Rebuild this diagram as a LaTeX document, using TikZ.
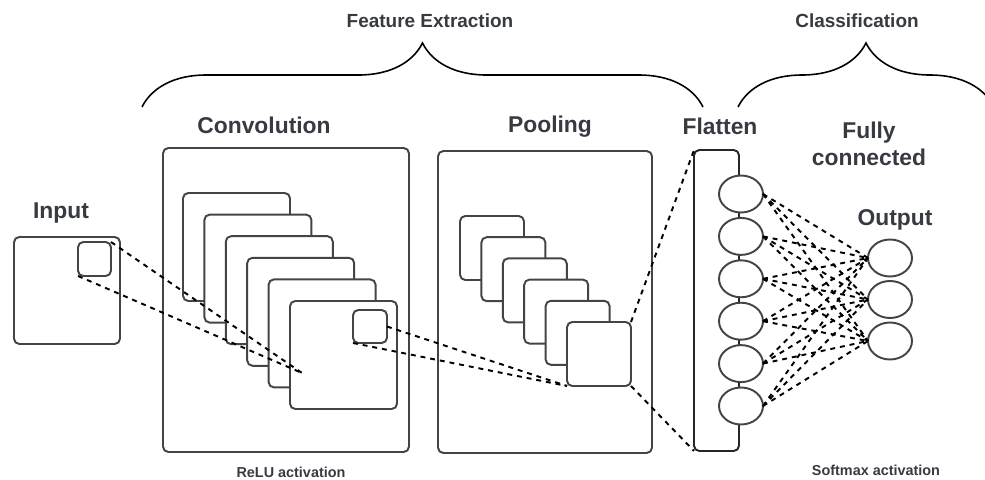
\documentclass[tikz,border=0pt]{standalone}
\usepackage{fontspec}
\setmainfont{Liberation Sans}
\usepackage{tikz}
\usetikzlibrary{shapes.geometric,decorations.pathreplacing}
\definecolor{boxgray}{RGB}{68,68,72}
\definecolor{textgray}{RGB}{55,58,65}
\tikzset{
  layerbox/.style={draw=boxgray,line width=1.1pt,rounded corners=3pt,fill=white,inner sep=0pt,outer sep=0pt},
  neuron/.style={ellipse,draw=boxgray,line width=1.1pt,fill=white,inner sep=0pt,outer sep=0pt,
    minimum width=0.88cm,minimum height=0.74cm},
  link/.style={black,line width=1.1pt,dash pattern=on 2.8pt off 2.8pt},
  bracket/.style={black,line width=0.9pt,decorate,decoration={brace,amplitude=1.28cm}},
  title/.style={font=\fontsize{13}{15.3}\selectfont\bfseries,text=textgray,align=center},
  grouplabel/.style={font=\fontsize{10.8}{13}\selectfont\bfseries,text=textgray},
  sublabel/.style={font=\fontsize{8.2}{10}\selectfont\bfseries,text=textgray}
}
\begin{document}
\begin{tikzpicture}[x=0.02cm,y=-0.02cm]
    \useasboundingbox (0,0) rectangle (985,480);
    % input
    \node[layerbox,minimum width=2.12cm,minimum height=2.14cm] (inp) at (67,290.5) {};
    \node[layerbox,minimum width=0.66cm,minimum height=0.68cm] (inpsq) at (94.5,259) {};
    \node[title] (inplab) at (61,213) {Input};
    % convolution
    \node[layerbox,minimum width=4.92cm,minimum height=6.08cm] (conv) at (286,300) {};
    \foreach \i in {1,...,6}
        \node[layerbox,minimum width=2.14cm,minimum height=2.16cm] (c\i) at ({236.5+21.4*(\i-1)},{247+21.6*(\i-1)}) {};
    \node[layerbox,minimum width=0.68cm,minimum height=0.66cm] (convsq) at (370,326.5) {};
    \coordinate (convpt) at (302,373);
    \draw[link] (inpsq.north east) -- (convpt);
    \draw[link] (inpsq.south west) -- (convpt);
    \node[title] (convlab) at (264,125) {Convolution};
    \node[sublabel] (relu) at (291,472) {ReLU activation};
    % pooling
    \node[layerbox,minimum width=4.28cm,minimum height=6.04cm] (pool) at (545,302) {};
    \foreach \i in {1,...,6}
        \node[layerbox,minimum width=1.28cm,minimum height=1.28cm] (p\i) at ({492+21.4*(\i-1)},{248+21.2*(\i-1)}) {};
    \draw[link] (convsq.east) -- (p6.south west);
    \draw[link] (convsq.south west) -- (p6.south west);
    \node[title] (poollab) at (550,127) {Pooling};
    % flatten
    \node[layerbox,draw=black!85,minimum width=0.9cm,minimum height=6.02cm] (flat) at (716.5,300.5) {};
    \foreach \i in {1,...,6}
        \node[neuron] (f\i) at (741,{194+42.4*(\i-1)}) {};
    \draw[link] (p6.north east) -- (flat.north west);
    \draw[link] (p6.south east) -- (flat.south west);
    \node[title] (flatlab) at (720,126) {Flatten};
    % fully connected
    \foreach \j in {1,2,3}
        \node[neuron] (o\j) at (890,{258+41.5*(\j-1)}) {};
    \foreach \i in {1,...,6}
        \foreach \j in {1,2,3}
            \draw[link] (f\i.east) -- (o\j.west);
    \node[title] (fclab) at (869,144) {Fully\\connected};
    \node[title] (outlab) at (895,220) {Output};
    \node[sublabel] (softmax) at (876,470) {Softmax activation};
    % braces
    \coordinate (fe-a) at (142,107);
    \coordinate (fe-b) at (703,107);
    \coordinate (cl-a) at (738,107);
    \coordinate (cl-b) at (994,107);
    \begin{scope}
        \clip (0,0) rectangle (985,480);
        \draw[bracket] (fe-a) -- (fe-b);
        \draw[bracket] (cl-a) -- (cl-b);
    \end{scope}
    \node[grouplabel] (felab) at (430,21) {Feature Extraction};
    \node[grouplabel] (cllab) at (857,21) {Classification};
\end{tikzpicture}
\end{document}
